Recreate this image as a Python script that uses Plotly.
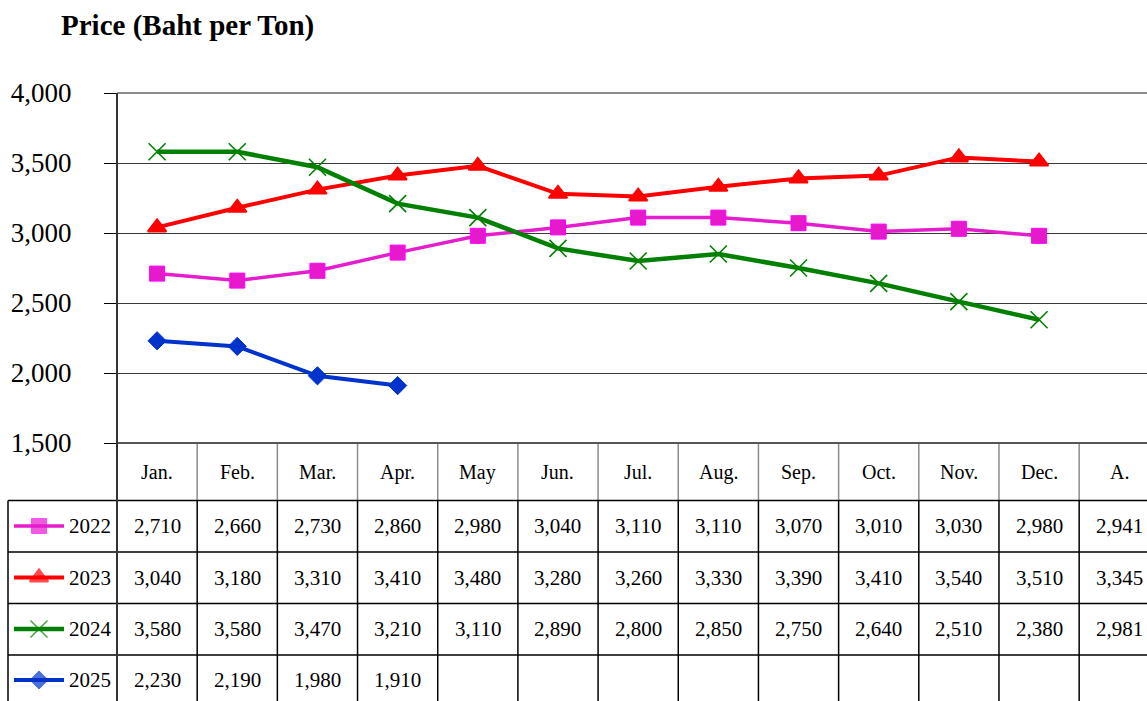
import plotly.graph_objects as go

# ---------------- data ----------------
categories = ["Jan.", "Feb.", "Mar.", "Apr.", "May", "Jun.", "Jul.", "Aug.",
              "Sep.", "Oct.", "Nov.", "Dec.", "A."]
months = categories[:12]
years = ["2022", "2023", "2024", "2025"]
p2022 = [2710, 2660, 2730, 2860, 2980, 3040, 3110, 3110, 3070, 3010, 3030, 2980]
p2023 = [3040, 3180, 3310, 3410, 3480, 3280, 3260, 3330, 3390, 3410, 3540, 3510]
p2024 = [3580, 3580, 3470, 3210, 3110, 2890, 2800, 2850, 2750, 2640, 2510, 2380]
p2025 = [2230, 2190, 1980, 1910]
averages = [2941, 3345, 2981, None]
y_ticks = [1500, 2000, 2500, 3000, 3500, 4000]

series = [p2022, p2023, p2024, p2025]

# ---------------- styles ----------------
colors = ["#E41ECC", "#FF0000", "#008000", "#0033CC"]
line_w = [3.5, 4, 4.5, 4]
markers = [
    dict(symbol="square", size=15, color="#E619CC", line=dict(color="#FF00FF", width=1)),
    dict(symbol="triangle-up", size=16, color="#FF0000", line=dict(color="#FF0000", width=2)),
    dict(symbol="x-thin", size=17, color="#008000", line=dict(color="#008000", width=1.6)),
    dict(symbol="diamond", size=14, color="#0033CC", line=dict(color="#0033CC", width=1)),
]

W, H = 1147, 701
L, R, T, B = 117, 1147, 93, 443
colw = 80.18
xmax = -0.5 + (R - L) / colw
FONT = "Liberation Serif"

def px(x):
    return x / W

def py(y):
    return 1 - y / H

row_lines = [500.5, 552, 603.5, 655]
row_centers = [526, 577.5, 629, 680]
header_center = 472
table_bottom = 712
legend_left = 8

fig = go.Figure()

for i, (yr, vals) in enumerate(zip(years, series)):
    fig.add_trace(go.Scatter(
        x=months[:len(vals)], y=vals, name=yr, mode="lines+markers",
        line=dict(color=colors[i], width=line_w[i]),
        marker=markers[i], xaxis="x", yaxis="y", cliponaxis=False,
        showlegend=False,
    ))

# legend keys in the table's first column (overlay pixel axis)
for i, yr in enumerate(years):
    m = dict(markers[i])
    m["size"] = [0, markers[i]["size"], 0]
    fig.add_trace(go.Scatter(
        x=[14, 39, 64], y=[row_centers[i]] * 3, mode="lines+markers",
        line=dict(color=colors[i], width=line_w[i]), marker=m,
        xaxis="x2", yaxis="y2", showlegend=False, cliponaxis=False,
        hoverinfo="skip",
    ))

shapes = []
def hline(y, x0, x1, color, width):
    shapes.append(dict(type="line", xref="paper", yref="paper",
                       x0=px(x0), x1=px(x1), y0=py(y), y1=py(y),
                       line=dict(color=color, width=width)))

def vline(x, y0, y1, color, width):
    shapes.append(dict(type="line", xref="paper", yref="paper",
                       x0=px(x), x1=px(x), y0=py(y0), y1=py(y1),
                       line=dict(color=color, width=width)))

# top border of plot
hline(T, L, R, "#8c8c8c", 2)
# table grid
for k in range(1, 14):
    xb = L + k * colw
    if xb <= W + 1:
        vline(xb, B, row_lines[0], "#8c8c8c", 1.5)
        vline(xb, row_lines[0], table_bottom, "#000000", 1.5)
vline(legend_left, row_lines[0], table_bottom, "#000000", 1.5)
for yl in row_lines:
    hline(yl, legend_left, W + 2, "#000000", 1.5)
# axis lines
hline(B, L, R, "#555555", 2)
vline(L, T, table_bottom, "#333333", 2)

annotations = []
# title
annotations.append(dict(text="<b>Price (Baht per Ton)</b>", xref="paper", yref="paper",
                        x=px(59), y=py(25), xanchor="left", yanchor="middle",
                        showarrow=False, font=dict(family=FONT, size=29, color="black")))
# header
for j, c in enumerate(categories):
    annotations.append(dict(text=c, xref="x", yref="paper", x=j, y=py(header_center),
                            xanchor="center", yanchor="middle", showarrow=False,
                            font=dict(family=FONT, size=20, color="black")))
# values
for i, (yr, vals) in enumerate(zip(years, series)):
    annotations.append(dict(text=yr, xref="paper", yref="paper", x=px(67), y=py(row_centers[i]),
                            xanchor="left", yanchor="middle", showarrow=False,
                            font=dict(family=FONT, size=21, color="black")))
    cells = list(vals) + [None] * (12 - len(vals)) + [averages[i]]
    for j, v in enumerate(cells):
        if v is None:
            continue
        annotations.append(dict(text=f"{v:,}", xref="x", yref="paper", x=j, y=py(row_centers[i]),
                                xanchor="center", yanchor="middle", showarrow=False,
                                font=dict(family=FONT, size=21, color="black")))

fig.update_layout(
    width=W, height=H,
    margin=dict(l=0, r=0, t=0, b=0),
    paper_bgcolor="white", plot_bgcolor="rgba(0,0,0,0)",
    showlegend=False,
    xaxis=dict(domain=[px(L), 1], range=[-0.5, xmax], type="category",
               categoryorder="array", categoryarray=categories,
               showticklabels=False, ticks="", showgrid=False, zeroline=False,
               showline=False, anchor="y", automargin=False, fixedrange=True),
    yaxis=dict(domain=[py(B), py(T)], range=[1500, 4000], tickvals=y_ticks,
               tickformat=",", ticks="outside", ticklen=12, tickcolor="black", tickwidth=1,
               ticklabelstandoff=27,
               tickfont=dict(family=FONT, size=27, color="black"),
               showgrid=True, gridcolor="#3a3a3a", gridwidth=1, zeroline=False,
               showline=False, anchor="x", automargin=False, fixedrange=True),
    xaxis2=dict(domain=[0, 1], range=[0, W], visible=False, anchor="y2", fixedrange=True),
    yaxis2=dict(domain=[0, 1], range=[H, 0], visible=False, anchor="x2", fixedrange=True),
    shapes=shapes, annotations=annotations,
    font=dict(family=FONT, color="black"),
)

fig.write_html("out.html", config={"responsive": False, "displayModeBar": False},
               post_script="document.body.style.margin='0px';document.body.style.overflow='hidden';")
